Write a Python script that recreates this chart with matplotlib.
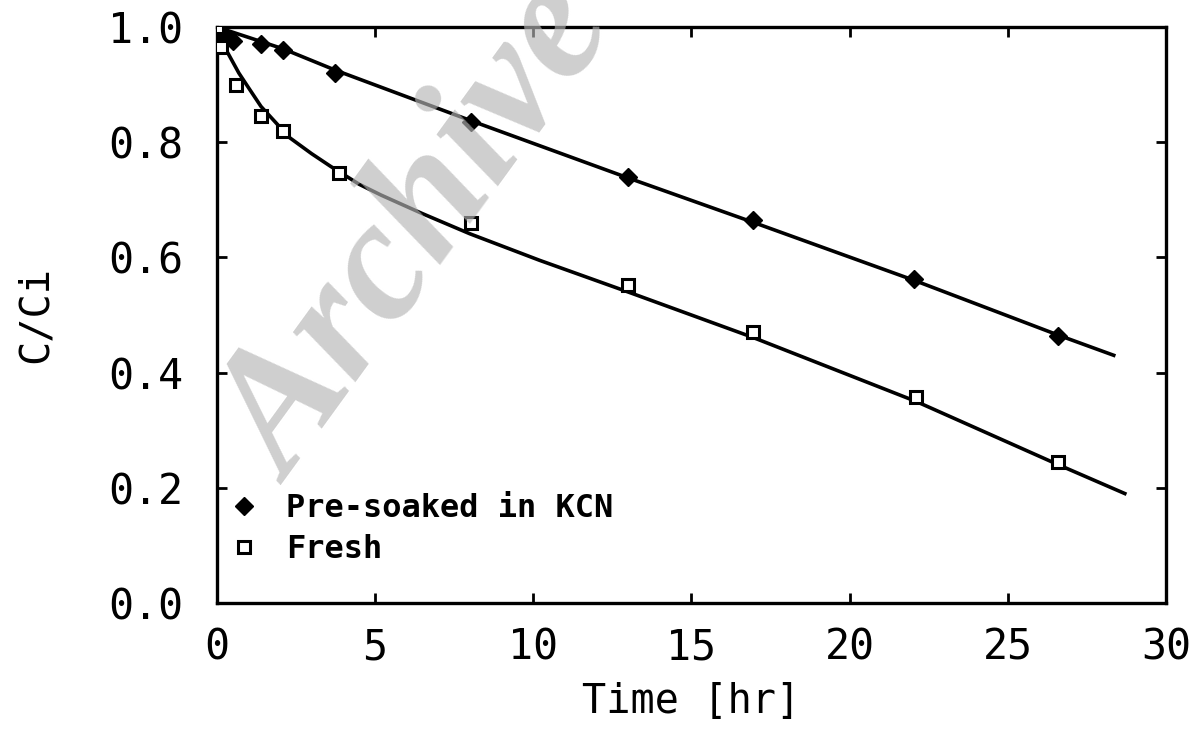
import matplotlib
matplotlib.use("Agg")
from matplotlib import pyplot as plt

soaked_t = [0.0, 0.25, 0.5, 1.4, 2.1, 3.75, 8.05, 13.0, 16.95, 22.05, 26.6]
soaked_c = [1.0, 0.985, 0.975, 0.97, 0.96, 0.92, 0.835, 0.74, 0.665, 0.563, 0.464]

fresh_t = [0.0, 0.15, 0.6, 1.4, 2.1, 3.85, 8.05, 13.0, 16.95, 22.1, 26.6]
fresh_c = [1.0, 0.965, 0.9, 0.845, 0.82, 0.747, 0.66, 0.552, 0.47, 0.358, 0.245]

# fitted curves
soaked_fit_t = [0.0, 1.0, 2.1, 3.75, 8.05, 13.0, 17.0, 22.05, 26.6, 28.35]
soaked_fit_c = [1.0, 0.982, 0.962, 0.925, 0.837, 0.738, 0.66, 0.56, 0.465, 0.43]

fresh_fit_t = [0.0, 0.3, 0.7, 1.0, 1.4, 2.3, 3.0, 3.6, 4.5, 5.2, 6.5, 8.0,
               10.2, 13.0, 16.95, 22.1, 26.6, 28.7]
fresh_fit_c = [1.0, 0.96, 0.92, 0.895, 0.862, 0.808, 0.78, 0.758, 0.727, 0.708,
               0.676, 0.641, 0.595, 0.54, 0.461, 0.35, 0.24, 0.19]

x_ticks = [0, 5, 10, 15, 20, 25, 30]
y_ticks = [0.0, 0.2, 0.4, 0.6, 0.8, 1.0]

mono = "DejaVu Sans Mono"

fig = plt.figure(figsize=(11.94, 7.35), dpi=100)
ax = fig.add_axes([0.1815, 0.1796, 0.795, 0.7837])

ax.plot(soaked_fit_t, soaked_fit_c, color="black", lw=2.6, zorder=2)
ax.plot(fresh_fit_t, fresh_fit_c, color="black", lw=2.6, zorder=2)
ax.plot(soaked_t, soaked_c, linestyle="none", marker="D", markersize=9,
        color="black", label="Pre-soaked in KCN", zorder=3)
ax.plot(fresh_t, fresh_c, linestyle="none", marker="s", markersize=9,
        markerfacecolor="white", markeredgecolor="black", markeredgewidth=2.2,
        label="Fresh", zorder=3)

ax.set_xlim(0, 30)
ax.set_ylim(0, 1.0)
ax.set_xticks(x_ticks)
ax.set_yticks(y_ticks)
ax.set_xticklabels([str(t) for t in x_ticks], fontfamily=mono, fontsize=30)
ax.set_yticklabels(["%.1f" % t for t in y_ticks], fontfamily=mono, fontsize=30)
ax.tick_params(direction="in", length=7, width=2, top=True, right=True)
ax.tick_params(axis="x", pad=17)
ax.tick_params(axis="y", pad=24)
for s in ax.spines.values():
    s.set_linewidth(2.4)

ax.set_xlabel("Time [hr]", fontfamily=mono, fontsize=29, labelpad=10)
ax.set_ylabel("C/Ci", fontfamily=mono, fontsize=29, labelpad=38)

leg = ax.legend(loc="upper left", bbox_to_anchor=(-0.018, 0.24), frameon=False,
                handlelength=1.0, handletextpad=0.8, labelspacing=0.3,
                prop={"family": mono, "size": 23, "weight": "bold"})

# watermark from the scanned page
fig.text(0.243, 0.340, "Archive", rotation=54, rotation_mode="anchor",
         ha="left", va="baseline", fontsize=125, fontfamily="Liberation Serif",
         fontstyle="italic", fontweight="bold", color="#b5b5b5", alpha=0.65,
         zorder=10)

fig.savefig("out.png", dpi=100)
